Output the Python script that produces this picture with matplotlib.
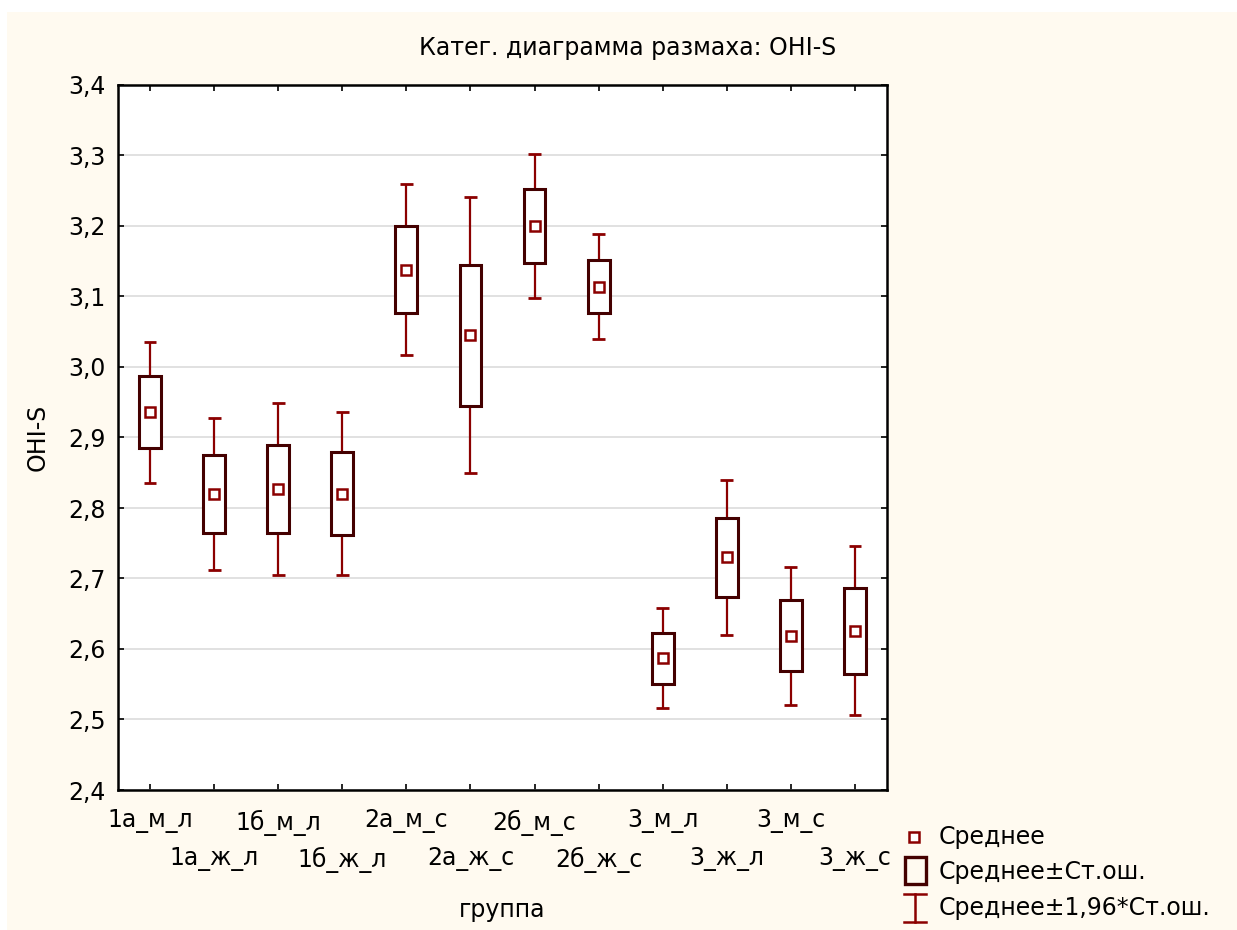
import numpy as np
import matplotlib
matplotlib.use("Agg")
import matplotlib.pyplot as plt
from matplotlib.patches import Rectangle
from matplotlib.lines import Line2D

# group means and standard errors of OHI-S
groups = ["1а_м_л", "1а_ж_л", "1б_м_л", "1б_ж_л", "2а_м_с", "2а_ж_с",
          "2б_м_с", "2б_ж_с", "3_м_л", "3_ж_л", "3_м_с", "3_ж_с"]
means = [2.936, 2.820, 2.827, 2.820, 3.138, 3.045,
         3.200, 3.114, 2.587, 2.730, 2.619, 2.626]
std_err = [0.051, 0.055, 0.062, 0.059, 0.062, 0.100,
           0.052, 0.038, 0.036, 0.056, 0.050, 0.061]

y_ticks = [2.4, 2.5, 2.6, 2.7, 2.8, 2.9, 3.0, 3.1, 3.2, 3.3, 3.4]
y_tick_labels = ["2,4", "2,5", "2,6", "2,7", "2,8", "2,9",
                 "3,0", "3,1", "3,2", "3,3", "3,4"]

MEAN_COLOR = "#8B0000"
BOX_COLOR = "#440000"
BG = "#FFFAF0"
W, H = 1237, 930
FS = 17

plt.rcParams["font.family"] = "DejaVu Sans"
plt.rcParams["font.size"] = FS

fig = plt.figure(figsize=(W / 100, H / 100), dpi=100, facecolor="white")
fig.patches.append(Rectangle((7 / W, 0), 1, (H - 12) / H, transform=fig.transFigure,
                             facecolor=BG, edgecolor="none", zorder=-10))

ax = fig.add_axes([118 / W, 1 - 790 / H, 769 / W, 705 / H])
ax.set_facecolor("white")

x = np.arange(len(groups))
m = np.array(means)
se = np.array(std_err)
box_w = 0.34
cap_w = 0.1

# whiskers: mean +/- 1.96*SE, drawn outside the SE box
ax.vlines(x, m + se, m + 1.96 * se, color=MEAN_COLOR, lw=1.6, zorder=2)
ax.vlines(x, m - 1.96 * se, m - se, color=MEAN_COLOR, lw=1.6, zorder=2)
ax.hlines(m + 1.96 * se, x - cap_w, x + cap_w, color=MEAN_COLOR, lw=2.0, zorder=2)
ax.hlines(m - 1.96 * se, x - cap_w, x + cap_w, color=MEAN_COLOR, lw=2.0, zorder=2)

# boxes: mean +/- SE
for xi, mi, si in zip(x, m, se):
    ax.add_patch(Rectangle((xi - box_w / 2, mi - si), box_w, 2 * si,
                           facecolor="white", edgecolor=BOX_COLOR, lw=2.2, zorder=3))

ax.plot(x, m, ls="none", marker="s", ms=7.5, mfc="white", mec=MEAN_COLOR,
        mew=1.8, zorder=4)

ax.set_xlim(-0.5, len(groups) - 0.5)
ax.set_ylim(2.4, 3.4)
ax.set_yticks(y_ticks, y_tick_labels)
ax.set_xticks(x, groups)
ax.yaxis.grid(True, color="#D9D9D9", lw=1.1)
ax.set_axisbelow(True)
ax.tick_params(axis="both", direction="in", length=4, width=1.2, color="black",
               top=True, right=True, labelsize=FS)
ax.tick_params(axis="y", pad=9)
for i, tick in enumerate(ax.xaxis.get_major_ticks()):
    tick.set_pad(14 if i % 2 == 0 else 41)
for sp in ax.spines.values():
    sp.set_linewidth(1.8)
    sp.set_color("black")

fig.text(628 / W, 1 - 48 / H, "Катег. диаграмма размаха: OHI-S",
         ha="center", va="center", fontsize=FS)
fig.text(38 / W, 1 - 437 / H, "OHI-S", rotation=90, ha="center", va="center",
         fontsize=FS)
fig.text(502 / W, 1 - 910 / H, "группа", ha="center", va="center", fontsize=FS)

# legend drawn in figure pixels
def fx(px):
    return px / W


def fy(py):
    return 1 - py / H


fig.add_artist(Line2D([fx(914)], [fy(837)], marker="s", ms=7.5, mfc="white",
                      mec=MEAN_COLOR, mew=1.8, transform=fig.transFigure))
fig.add_artist(Rectangle((fx(905), fy(884)), 21 / W, 27 / H, facecolor="none",
                         edgecolor=BOX_COLOR, lw=2.4, transform=fig.transFigure))
fig.add_artist(Line2D([fx(915), fx(915)], [fy(894), fy(922)], color=MEAN_COLOR,
                      lw=1.8, transform=fig.transFigure))
for py in (894, 922):
    fig.add_artist(Line2D([fx(904), fx(926)], [fy(py), fy(py)], color=MEAN_COLOR,
                          lw=1.8, transform=fig.transFigure))
legend_labels = ["Среднее", "Среднее±Ст.ош.", "Среднее±1,96*Ст.ош."]
for label, py in zip(legend_labels, (837, 872, 908)):
    fig.text(fx(939), fy(py), label, ha="left", va="center", fontsize=FS)

fig.savefig("out.png", dpi=100, facecolor=fig.get_facecolor())
